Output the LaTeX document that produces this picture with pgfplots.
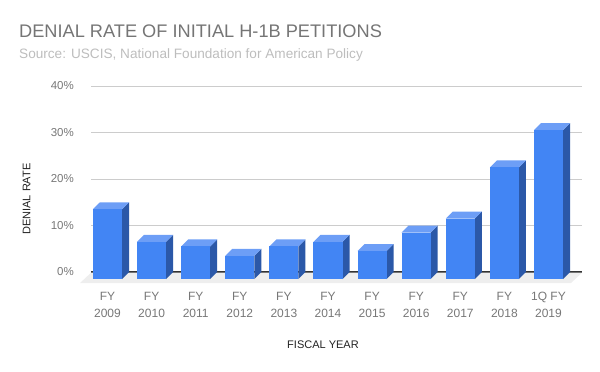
\documentclass[border=0pt]{standalone}
\usepackage{pgfplots}
\usepackage{pgfplotstable}
\pgfplotsset{compat=1.18}
\usepackage{fontspec}
\setmainfont{Liberation Sans}
\definecolor{frontc}{HTML}{4285F4}
\definecolor{topc}{HTML}{6D9EF6}
\definecolor{sidec}{HTML}{2B58A8}
\definecolor{gridc}{HTML}{CCCCCC}
\definecolor{tickc}{HTML}{777777}
\definecolor{ttlc}{HTML}{757575}
\definecolor{subc}{HTML}{BDBDBD}
\definecolor{floorc}{HTML}{EEEEEE}
\definecolor{labc}{HTML}{222222}

\pgfplotstableread{
i v
0 15
1 8
2 7
3 5
4 7
5 8
6 6
7 10
8 13
9 24
10 32
}\rates

\begin{document}
\begin{tikzpicture}[x=1bp,y=1bp]
\path[use as bounding box] (0,0) rectangle (600,371);
\node[anchor=base west, font=\fontsize{18.2bp}{20bp}\selectfont, text=ttlc, inner sep=0] at (19,334) {DENIAL RATE OF INITIAL H-1B PETITIONS};
\node[anchor=base west, font=\fontsize{13.6bp}{16bp}\selectfont, text=subc, inner sep=0] at (19,313) {Source: USCIS, National Foundation for American Policy};
\begin{axis}[
  at={(91bp,99bp)}, anchor=south west,
  scale only axis, width=491bp, height=186bp,
  xmin=-0.374, xmax=10.76, ymin=0, ymax=40,
  clip=false,
  /pgf/number format/assume math mode=true,
  axis line style={draw=none},
  major tick length=0pt,
  ymajorgrids, grid style={gridc, line width=1bp},
  ytick={10,20,30,40},
  extra y ticks={0},
  extra y tick style={grid style={black!80, line width=1.2bp}},
  yticklabel={\pgfmathprintnumber{\tick}\%},
  yticklabel style={anchor=east, inner sep=0pt, xshift=-17bp, font=\fontsize{11.5bp}{13bp}\selectfont, text=tickc},
  xtick={0,...,10},
  xticklabels={{FY\\2009},{FY\\2010},{FY\\2011},{FY\\2012},{FY\\2013},{FY\\2014},{FY\\2015},{FY\\2016},{FY\\2017},{FY\\2018},{1Q FY\\2019}},
  xticklabel style={anchor=north, inner sep=0pt, yshift=-20bp, align=center, font=\fontsize{12bp}{17bp}\selectfont, text=tickc},
  every axis x label/.style={at={(rel axis cs:0.4725,0)}, yshift=-73bp, anchor=center, font=\fontsize{11bp}{12bp}\selectfont, text=labc},
  every axis y label/.style={at={(rel axis cs:0,0.392)}, xshift=-64.5bp, anchor=center, rotate=90, font=\fontsize{11bp}{12bp}\selectfont, text=labc},
  xlabel={FISCAL YEAR},
  ylabel={DENIAL RATE},
]
% floor
\addplot[fill=floorc, draw=none, forget plot] coordinates {(-0.374,-0.15) (10.76,-0.15) (10.511,-2.37) (-0.623,-2.37)};
% 3D bars
\pgfplotsinvokeforeach{0,...,10}{
  \pgfplotstablegetelem{#1}{v}\of\rates
  \pgfmathsetmacro\bv{\pgfplotsretval}
  \pgfmathsetmacro\bvf{\pgfplotsretval-1.505}
  \pgfmathsetmacro\xl{#1-0.329}
  \pgfmathsetmacro\xr{#1+0.329}
  \pgfmathsetmacro\xlb{#1-0.329+0.159}
  \pgfmathsetmacro\xrb{#1+0.329+0.159}
  \edef\doit{%
    \noexpand\addplot[fill=sidec, draw=none, forget plot] coordinates {(\xr,-1.505) (\xrb,0) (\xrb,\bv) (\xr,\bvf)};
    \noexpand\addplot[fill=topc, draw=none, forget plot] coordinates {(\xl,\bvf) (\xr,\bvf) (\xrb,\bv) (\xlb,\bv)};
    \noexpand\addplot[fill=frontc, draw=none, forget plot] coordinates {(\xl,-1.505) (\xr,-1.505) (\xr,\bvf) (\xl,\bvf)};
  }%
  \doit
}
\end{axis}
\end{tikzpicture}
\end{document}
